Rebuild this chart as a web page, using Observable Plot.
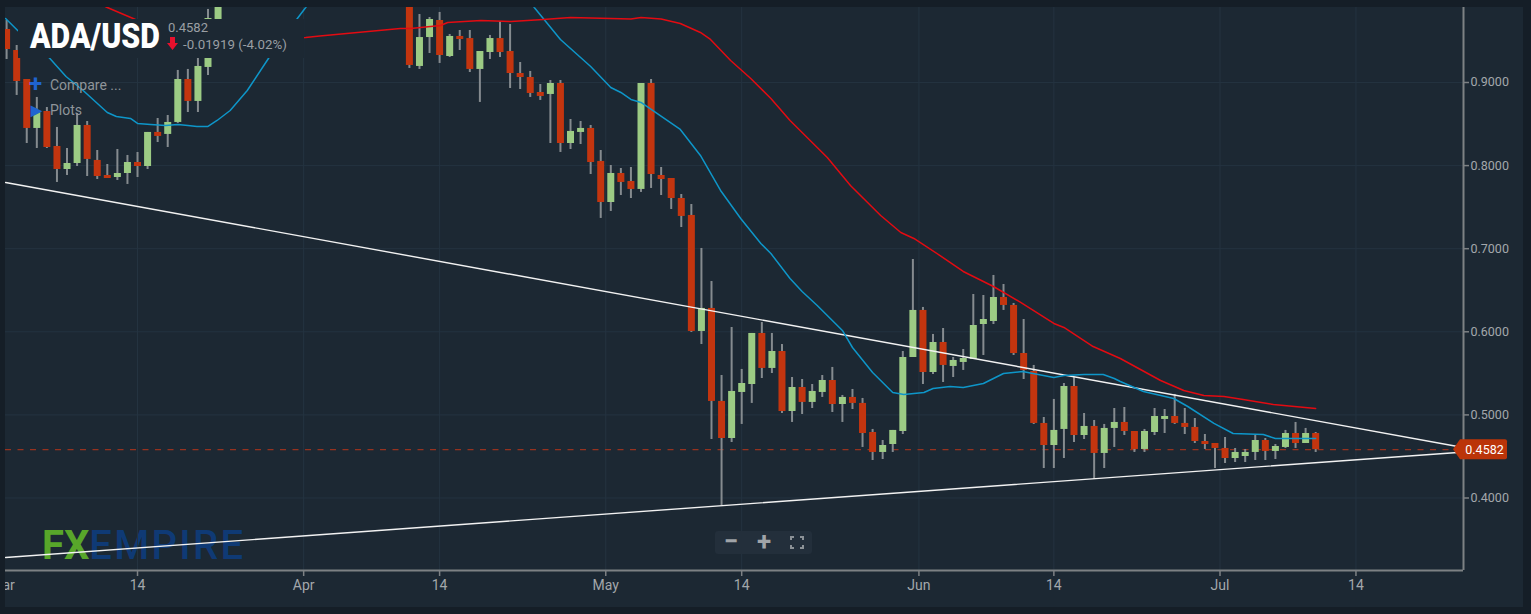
<!DOCTYPE html>
<html><head><meta charset="utf-8">
<script src="https://cdn.jsdelivr.net/npm/d3@7"></script>
<script src="https://cdn.jsdelivr.net/npm/@observablehq/plot@0.6"></script>
<style>
html,body{margin:0;padding:0;background:#151e27;overflow:hidden}
#page{position:relative;width:1531px;height:614px;overflow:hidden;font-family:Roboto,sans-serif}
#panel{position:absolute;left:5px;top:7px;width:1518px;height:600px;background:#1c2833;z-index:0}
#logo{position:absolute;left:42px;top:522px;z-index:1;font:500 40px/48px Roboto,sans-serif;letter-spacing:2.3px;white-space:nowrap;color:#0f3a75}
#logo b{color:#58a62a;font-weight:700;letter-spacing:0}
#chart{position:absolute;left:0;top:0;z-index:2}
#leftEdge{position:absolute;left:0;top:0;width:5px;height:614px;background:#151e27;z-index:3}
#mask{position:absolute;left:18px;top:19px;width:286px;height:39px;background:#1c2833;z-index:4}
#title{position:absolute;left:30px;top:15px;z-index:5;font:900 35px/44px Roboto,sans-serif;color:#fff;transform-origin:left top;transform:scaleX(.865);white-space:nowrap}
#last{position:absolute;left:168px;top:20px;z-index:5;font:13px/16px Roboto,sans-serif;color:#9a9fa4}
#chg{position:absolute;left:183px;top:36px;z-index:5;font:13.3px/17px Roboto,sans-serif;color:#9a9fa4;white-space:nowrap}
#arrow{position:absolute;left:167px;top:37px;z-index:5;width:0;height:0}
.menu{position:absolute;z-index:5;left:50px;font:14px/18px Roboto,sans-serif;color:#8f959a;white-space:nowrap}
.ico{position:absolute;z-index:5;color:#1f63d0;font-weight:700;white-space:nowrap}
#zoomBar{position:absolute;left:715px;top:531px;width:97px;height:23px;background:#232f3b;border-radius:3px;z-index:5;color:#a0a4a8;font:700 26px/23px Roboto,sans-serif}
#zoomBar span{position:absolute;top:-1px;width:20px;text-align:center}
#zoomBar svg{position:absolute;left:75px;top:5px}
</style></head>
<body><div id="page">
<div id="panel"></div>
<div id="logo"><b>FX</b>EMPIRE</div>
<div id="chart"></div>
<div id="leftEdge"></div>
<div id="mask"></div>
<div id="title">ADA/USD</div>
<div id="last">0.4582</div>
<svg id="arrow" style="width:11px;height:13px" viewBox="0 0 11 13"><path d="M3 0h5v6h3l-5.5 7L0 6h3z" fill="#e8112d"/></svg>
<div id="chg">-0.01919 (-4.02%)</div>
<div class="ico" style="left:29px;top:71px;font-size:24px;line-height:26px">+</div>
<div class="menu" style="top:76px">Compare ...</div>
<div class="ico" style="left:31px;top:101px;font-size:14px;line-height:18px">▶</div>
<div class="menu" style="top:101px">Plots</div>
<div id="zoomBar"><span style="left:6px">−</span><span style="left:39px">+</span>
<svg width="14" height="13" viewBox="0 0 14 13" fill="none" stroke="#8c9297" stroke-width="2"><path d="M1 4V1h3M10 1h3v3M13 9v3h-3M4 12H1V9"/></svg></div>
</div>
<script>
// Candles: one entry per trading slot, null where the candle is above the visible window
const gap = Array(18).fill(null);
const open = [.9638,.9385,.9036,.8447,.8651,.8230,.7953,.8025,.8483,.8062,.7881,.7857,.7905,.8037,.7989,.8399,.8375,.8519,.9036,.8772,.9181,.9758,
 ...gap,
 .995,.9193,.9541,.9746,.9313,.9554,.9529,.9157,.9361,.9529,.9373,.9108,.9060,.8880,.8856,.8988,.8266,.8399,.8447,.8050,.7556,.7905,.7809,.7713,.8988,.7881,.7845,.7604,.7400,
 .6004,.6281,.5162,.4716,.5270,.5366,.5980,.5559,.5763,.5041,.5330,.5150,.5270,.5414,.5125,.5210,.5138,.4788,.4548,.4644,.4800,.5691,.6257,.5510,.5871,.5583,.5631,.5667,.6088,.6124,.6413,.6317,.5739,.5522,
 .4897,.4632,.4825,.5342,.4752,.4861,.4536,.4837,.4909,.4800,.4584,.4788,.4945,.4981,.4897,.4849,.4680,.4656,.4596,.4475,.4499,.4548,.4692,.4560,.4608,.4776,.4656,.4776];
const close = [.9397,.9012,.8447,.8639,.8218,.7953,.8025,.8483,.8074,.7869,.7845,.7905,.8037,.7989,.8399,.8351,.8519,.9036,.8772,.9193,.9770,.9950,
 ...gap,
 .9205,.9541,.9758,.9325,.9554,.9517,.9157,.9373,.9529,.9361,.9108,.9060,.8868,.8832,.8988,.8266,.8411,.8447,.8037,.7556,.7905,.7797,.7713,.8988,.7893,.7833,.7604,.7388,.6004,
 .6281,.5162,.4716,.5282,.5378,.5980,.5559,.5763,.5041,.5330,.5150,.5282,.5414,.5125,.5210,.5138,.4776,.4548,.4632,.4813,.5691,.6257,.5510,.5871,.5595,.5655,.5679,.6076,.6148,.6413,.6317,.5739,.5535,.4897,
 .4632,.4813,.5342,.4752,.4861,.4536,.4837,.4909,.4800,.4584,.4800,.4981,.4981,.4897,.4849,.4680,.4644,.4596,.4475,.4548,.4548,.4692,.4560,.4620,.4776,.4656,.4776,.4582];
const high = [.9746,.9445,.9036,.8820,.8699,.8459,.8206,.8627,.8531,.8182,.8013,.8194,.8122,.8158,.8399,.8567,.8603,.9145,.9157,.9289,.9879,1.0,
 ...gap,
 1.0,.9818,.9782,.9843,.9578,.9626,.9626,.9373,.9566,.9734,.9698,.9241,.9133,.8976,.9024,.9024,.8555,.8531,.8483,.8182,.8001,.7965,.7977,.8988,.9036,.7977,.7845,.7652,.7532,
 .7003,.6605,.5474,.6052,.5547,.5980,.6112,.5980,.5847,.5450,.5426,.5366,.5474,.5571,.5234,.5306,.5198,.4825,.4692,.4813,.5763,.6870,.6293,.5968,.6040,.5691,.5787,.6449,.6437,.6678,.6569,.6341,.6148,.5595,
 .4969,.5186,.5378,.5450,.5017,.4933,.4885,.5077,.5089,.4800,.4825,.5077,.5065,.5246,.5077,.4957,.4764,.4656,.4728,.4596,.4584,.4752,.4716,.4644,.4813,.4909,.4837,.4788];
const low = [.9277,.8844,.8266,.8206,.8206,.7797,.7881,.7989,.7869,.7833,.7845,.7821,.7773,.7857,.7953,.8278,.8218,.8507,.8639,.8639,.9084,.9746,
 ...gap,
 .9169,.9157,.9349,.9229,.9301,.9385,.9120,.8760,.9277,.9301,.8928,.8916,.8820,.8784,.8266,.8158,.8194,.8254,.7893,.7364,.7448,.7640,.7604,.7677,.7725,.7640,.7472,.7255,.5992,
 .5847,.4704,.3910,.4668,.4885,.5138,.5438,.5498,.5017,.4909,.5005,.5077,.5210,.5029,.4909,.5065,.4608,.4451,.4463,.4548,.4764,.5691,.5366,.5486,.5390,.5450,.5535,.5667,.5715,.6088,.6257,.5715,.5426,.4885,
 .4355,.4355,.4475,.4668,.4704,.4223,.4355,.4608,.4752,.4548,.4548,.4752,.4776,.4885,.4764,.4656,.4584,.4355,.4415,.4427,.4427,.4451,.4451,.4463,.4596,.4596,.4656,.4548];

// Slow moving average (red) and fast moving average (blue)
const redSlot = [8.3,10,12.8,17.3,23.2,29.7,31.1,39.1,40.1,43.1,43.8,47.1,50.1,53.3,56,62,63,65,66.9,68.9,69.9,71.9,73.9,75.9,77.8,79.8,81.5,83.8,85.1,86.8,88.8,90.1,92.7,95,98,100.7,104,105,107.9,110.6,114.6,116.9,118.9,120.9,122.8,125.8,130];
const redPrice = [1.0,.9903,.9758,.9566,.9505,.9542,.9560,.9650,.9650,.9686,.9722,.9746,.9734,.9758,.9782,.9763,.9782,.9764,.9710,.9602,.9518,.9265,.9048,.8808,.8543,.8302,.8098,.7761,.7604,.7400,.7195,.7123,.6918,.6726,.6545,.6353,.6100,.6052,.5823,.5679,.5414,.5294,.5234,.5222,.5185,.5125,.5077];
const blueSlot = [-.1,1.1,4.3,5.9,7.6,10,10.9,12.3,13,14.3,15.8,17,18,18.9,20,20.9,22.2,23.9,26,28.8,29.7,30.7,51,52.4,55,56,58,60,61,62,63,66.9,68.9,70.9,72.9,74.9,75.9,77.8,79,80.5,83,84,86,88,89.1,91.1,92,93.7,95,97,98,99,100.9,104,105,107,108.9,110,110.6,112.9,115.9,117.3,119.9,121.8,124.8,126,130];
const bluePrice = [.9770,.9626,.9289,.9072,.8904,.8639,.8591,.8567,.8507,.8495,.8483,.8495,.8483,.8471,.8471,.8543,.8663,.8904,.9289,.9758,.9903,1.008,1.017,.9903,.9517,.9409,.9193,.8940,.8880,.8796,.8760,.8435,.8122,.7701,.7364,.7063,.6942,.6641,.6485,.6317,.6016,.5811,.5510,.5270,.5246,.5270,.5318,.5342,.5330,.5378,.5438,.5498,.5522,.5450,.5474,.5486,.5486,.5438,.5402,.5282,.5197,.5101,.4897,.4776,.4764,.4716,.4716];

// Hand-drawn trend lines
const upperTrend = [{slot:-.1,price:.7797},{slot:144.1,price:.4620}];
const lowerTrend = [{slot:-.1,price:.3284},{slot:144.1,price:.4548}];

// Axes
const lastPrice = 0.4582;
const priceTicks = [.4,.5,.6,.7,.8,.9];
const timeSlots = [-.4,13,29.5,43,59.5,73,90.6,104,120.5,134];
const timeLabels = ["Mar","14","Apr","14","May","14","Jun","14","Jul","14"];

const candles = open.map((o,i)=>({slot:i,open:o,close:close[i],high:high[i],low:low[i]})).filter(d=>d.open!=null);
const rising = candles.filter(d=>d.close>=d.open);
const falling = candles.filter(d=>d.close<d.open);
const redLine = redSlot.map((s,i)=>({slot:s,price:redPrice[i]}));
const blueLine = blueSlot.map((s,i)=>({slot:s,price:bluePrice[i]}));

const xDomain = [-.11,144.68], yDomain = [.31275,.99025];
const tagColor = "#bb3409";

const chart = Plot.plot({
  width:1531, height:614,
  marginLeft:5, marginRight:68, marginTop:7, marginBottom:44,
  x:{domain:xDomain}, y:{domain:yDomain},
  style:{background:"transparent",color:"#a3a7ab",fontFamily:"Roboto, sans-serif",fontSize:"13px"},
  marks:[
    Plot.ruleY(priceTicks,{stroke:"#243340",strokeWidth:1}),
    Plot.ruleX(timeSlots.slice(1),{stroke:"#243340",strokeWidth:1}),
    Plot.ruleY([lastPrice],{stroke:"#96321f",strokeWidth:1.3,strokeDasharray:"6,6.5"}),
    Plot.ruleX(candles,{x:"slot",y1:"low",y2:"high",stroke:"#858b8f",strokeWidth:2,clip:true}),
    Plot.ruleX(rising,{x:"slot",y1:"open",y2:"close",stroke:"#9ccb84",strokeWidth:7,clip:true}),
    Plot.ruleX(falling,{x:"slot",y1:"open",y2:"close",stroke:"#c3350f",strokeWidth:7,clip:true}),
    Plot.line(upperTrend,{x:"slot",y:"price",stroke:"#f2f2f2",strokeWidth:1.4}),
    Plot.line(lowerTrend,{x:"slot",y:"price",stroke:"#f2f2f2",strokeWidth:1.4}),
    Plot.line(blueLine,{x:"slot",y:"price",stroke:"#0e96c9",strokeWidth:1.5,clip:true}),
    Plot.line(redLine,{x:"slot",y:"price",stroke:"#e30b12",strokeWidth:1.5,clip:true}),
    Plot.ruleX([xDomain[1]],{stroke:"#7d8184",strokeWidth:2}),
    Plot.ruleY([yDomain[0]],{stroke:"#7d8184",strokeWidth:2}),
    Plot.axisY({anchor:"right",ticks:priceTicks,tickFormat:d3.format(".4f"),tickSize:5,tickPadding:2,label:null,stroke:"#7d8184",strokeWidth:1.5,fill:"#a3a7ab",fontSize:12.5}),
    Plot.axisX({anchor:"bottom",ticks:timeSlots,tickFormat:s=>timeLabels[timeSlots.indexOf(s)],tickSize:6,tickPadding:4,label:null,stroke:"#7d8184",strokeWidth:1.5,fill:"#a3a7ab",fontSize:14}),
    // current-price tag sitting on the right axis
    (index,{x,y})=>{
      const py = y(lastPrice), px = x(xDomain[1]);
      const g = d3.create("svg:g");
      g.append("path")
        .attr("d",`M${px-10} ${py}L${px-3} ${py-10}H${px+42}a2 2 0 0 1 2 2V${py+8}a2 2 0 0 1 -2 2H${px-3}Z`)
        .attr("fill",tagColor);
      g.append("text").attr("x",px+21.5).attr("y",py+4.5).attr("text-anchor","middle")
        .attr("fill","#fff").attr("font-size",12.5).text(lastPrice.toFixed(4));
      return g.node();
    }
  ]
});
document.getElementById("chart").append(chart);
</script>
</body></html>
